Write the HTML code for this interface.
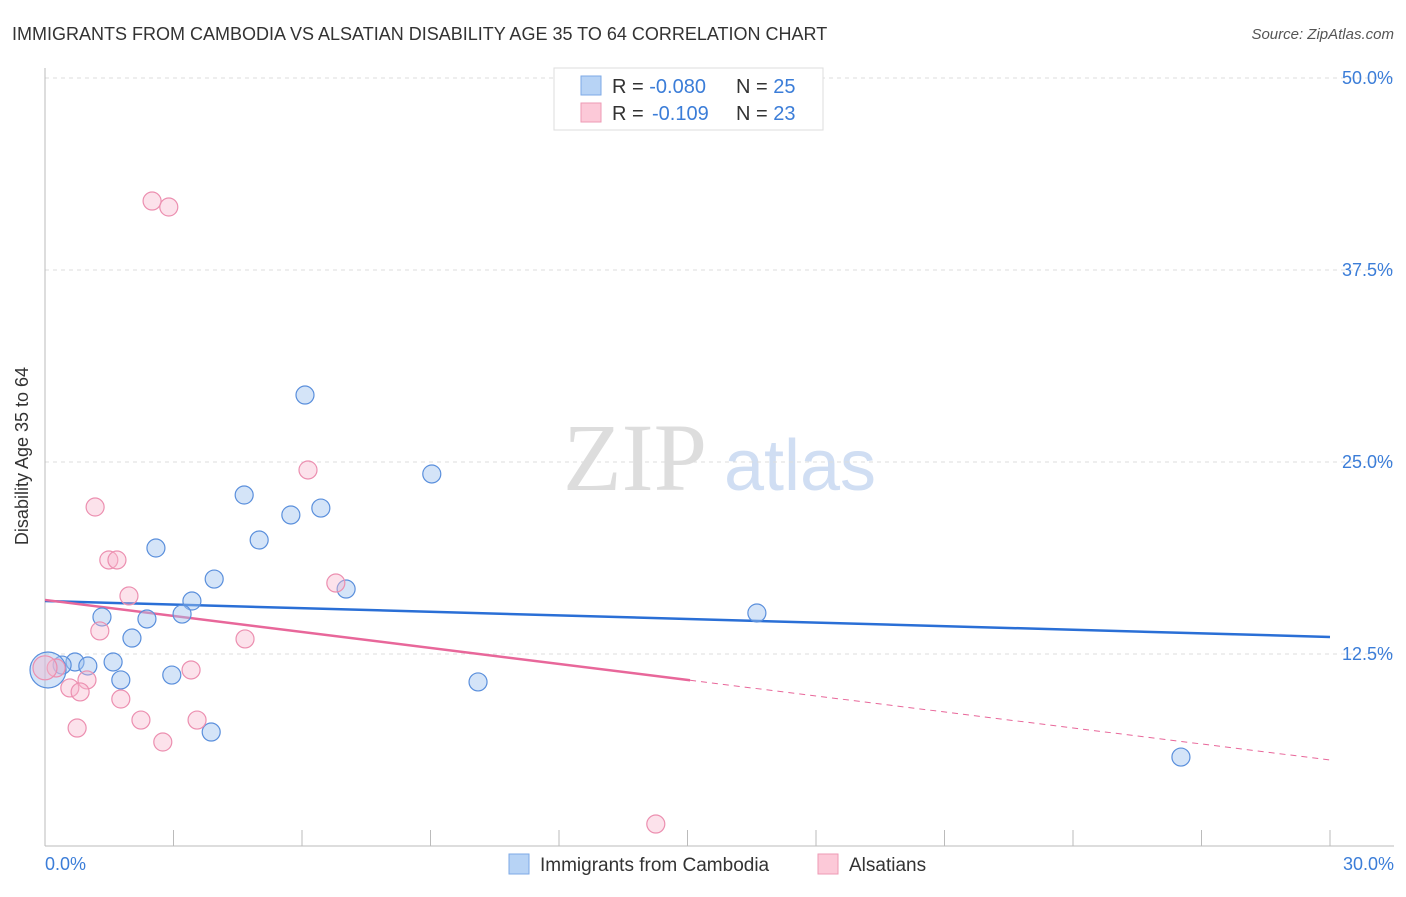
<!DOCTYPE html>
<html><head><meta charset="utf-8"><style>
body{margin:0;background:#fff;font-family:"Liberation Sans",sans-serif}
</style></head><body>
<svg width="1406" height="892" viewBox="0 0 1406 892" xmlns="http://www.w3.org/2000/svg">
<text x="12" y="40" font-size="18" fill="#333">IMMIGRANTS FROM CAMBODIA VS ALSATIAN DISABILITY AGE 35 TO 64 CORRELATION CHART</text>
<text x="1394" y="39" font-size="15" fill="#555" text-anchor="end" font-style="italic">Source: ZipAtlas.com</text>
<g>
<text x="635" y="490" font-size="96" font-family="Liberation Serif,serif" fill="#ddd" text-anchor="middle">ZIP</text>
<text x="800" y="490" font-size="72" fill="#d0def3" text-anchor="middle">atlas</text>
</g>
<g id="grid"></g>
<line x1="45" y1="68" x2="45" y2="846" stroke="#bbb"/>
<line x1="45" y1="846" x2="1394" y2="846" stroke="#bbb"/>
<g id="ticks"></g>
<text x="28" y="456" font-size="18" fill="#333" text-anchor="middle" transform="rotate(-90 28 456)">Disability Age 35 to 64</text>
<text x="45" y="870" font-size="18" fill="#3b7dd8">0.0%</text>
<text x="1394" y="870" font-size="18" fill="#3b7dd8" text-anchor="end">30.0%</text>
<g id="lines"></g>
<g id="points"></g>
<g>
<rect x="554" y="68" width="269" height="62" fill="#fff" stroke="#ddd"/>
<rect x="581" y="76" width="20" height="19" fill="#b7d3f5" stroke="#7ea9e6"/>
<rect x="581" y="103" width="20" height="19" fill="#fcc9d8" stroke="#ee9ab4"/>
<text x="612" y="93" font-size="20" fill="#333">R = <tspan fill="#3b7dd8">-0.080</tspan><tspan x="736">N = </tspan><tspan fill="#3b7dd8">25</tspan></text>
<text x="612" y="120" font-size="20" fill="#333">R = <tspan fill="#3b7dd8" x="652">-0.109</tspan><tspan x="736">N = </tspan><tspan fill="#3b7dd8">23</tspan></text>
</g>
<g>
<rect x="509" y="854" width="20" height="20" fill="#b7d3f5" stroke="#7ea9e6"/>
<text x="540" y="871" font-size="19" fill="#333">Immigrants from Cambodia</text>
<rect x="818" y="854" width="20" height="20" fill="#fcc9d8" stroke="#ee9ab4"/>
<text x="849" y="871" font-size="19" fill="#333">Alsatians</text>
</g>
</svg>
<script>
const yTicks=[12.5,25,37.5,50];
const xTicks=[0,3,6,9,12,15,18,21,24,27,30];
const blueX=[6.07,9.03,4.65,6.44,5.74,5.00,2.59,3.95,7.03,3.43,1.33,2.38,3.20,16.62,2.03,0.70,1.00,1.59,0.40,1.77,2.96,10.11,3.88,26.52,0.07];
const blueY=[29.36,24.22,22.85,22.00,21.55,19.92,19.40,17.38,16.73,15.95,14.91,14.78,15.10,15.17,13.54,11.98,11.72,11.98,11.78,10.81,11.13,10.68,7.42,5.79,11.46];
const pinkX=[2.50,2.89,6.14,1.17,1.49,1.68,1.96,6.79,1.28,4.67,3.41,0.26,0.98,0.58,0.82,1.77,2.24,3.55,0.75,2.75,14.26,0.0];
const pinkY=[41.99,41.60,24.48,22.07,18.62,18.62,16.28,17.12,14.00,13.48,11.46,11.59,10.81,10.29,10.03,9.57,8.20,8.20,7.68,6.77,1.43,11.6];
const blueTrend=[15.95,13.61];
const pinkTrend=[16.02,5.6];
const pinkSolidEnd=15.06;
const sx=v=>45+v/30*1285, sy=v=>846-v/12.5*192;
const NS="http://www.w3.org/2000/svg";
function mk(t,p,a){const e=document.createElementNS(NS,t);for(const k in a)e.setAttribute(k,a[k]);document.getElementById(p).appendChild(e);return e;}
yTicks.forEach(v=>{
 const l=mk('line','grid',{x1:45,x2:1394,y1:sy(v),y2:sy(v),stroke:'#ddd','stroke-dasharray':'4,4'});
 
 
 const t=mk('text','grid',{x:1393,y:sy(v)+6,'font-size':18,fill:'#3b7dd8','text-anchor':'end'});
 t.textContent=v.toFixed(1)+'%';
 
 
});
xTicks.forEach(v=>{
 const l=mk('line','ticks',{x1:sx(v),x2:sx(v),y1:830,y2:846,stroke:'#bbb'});
 
 
});
let l=mk('line','lines',{x1:sx(0),y1:sy(blueTrend[0]),x2:sx(30),y2:sy(blueTrend[1]),stroke:'#2a6fd6','stroke-width':2.5});


const pAt=x=>pinkTrend[0]+(pinkTrend[1]-pinkTrend[0])*x/30;
l=mk('line','lines',{x1:sx(0),y1:sy(pinkTrend[0]),x2:sx(pinkSolidEnd),y2:sy(pAt(pinkSolidEnd)),stroke:'#e8679a','stroke-width':2.5});


l=mk('line','lines',{x1:sx(pinkSolidEnd),y1:sy(pAt(pinkSolidEnd)),x2:sx(30),y2:sy(pinkTrend[1]),stroke:'#e8679a','stroke-width':1,'stroke-dasharray':'6,5'});


blueX.forEach((x,i)=>{
 const r=i===blueX.length-1?18:9;
 const c=mk('circle','points',{cx:sx(x),cy:sy(blueY[i]),r:r,fill:'rgba(160,196,240,0.45)',stroke:'#5a8fdc','stroke-width':1.2});
 
 
});
pinkX.forEach((x,i)=>{
 const r=i===pinkX.length-1?12:9;
 const c=mk('circle','points',{cx:sx(x),cy:sy(pinkY[i]),r:r,fill:'rgba(248,182,204,0.4)',stroke:'#ec8fb0','stroke-width':1.2});
 
 
});
</script>
</body></html>
